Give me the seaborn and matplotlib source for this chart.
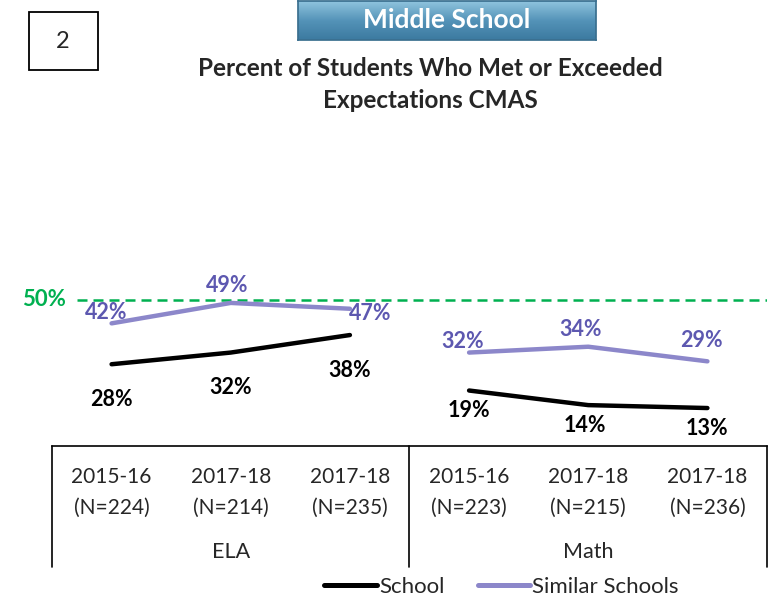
import numpy as np
import pandas as pd
import matplotlib
matplotlib.use("Agg")
import matplotlib.pyplot as plt
import matplotlib.transforms as mtransforms
from matplotlib.patches import Rectangle
from matplotlib.lines import Line2D
from matplotlib.colors import LinearSegmentedColormap
import seaborn as sns

# ---- data ----
subjects = ["ELA", "Math"]
years = ["2015-16", "2017-18", "2017-18", "2015-16", "2017-18", "2017-18"]
ns = ["(N=224)", "(N=214)", "(N=235)", "(N=223)", "(N=215)", "(N=236)"]
subject_of = ["ELA", "ELA", "ELA", "Math", "Math", "Math"]
school = [28, 32, 38, 19, 14, 13]
similar = [42, 49, 47, 32, 34, 29]
target = 50

# ---- label placement (pixels, styling only) ----
school_lbl_off = [(0, -35), (0, -35), (0, -35), (0, -20), (-3, -20), (0, -20)]
similar_lbl_off = [(-5, 11), (-4, 17), (20, -5), (-6, 11), (-8, 17), (-6, 21)]

sns.set_theme(style="white")
plt.rcParams["font.family"] = ["Lato", "DejaVu Sans"]

pos = list(range(len(years)))
df = pd.DataFrame({
    "pos": pos * 2,
    "value": school + similar,
    "series": ["School"] * 6 + ["Similar Schools"] * 6,
    "subject": subject_of * 2,
})

c_school = "#000000"
c_sim = "#8C87CA"
c_sim_lbl = "#5D58B0"
c_green = "#00B050"

fig = plt.figure(figsize=(7.8, 6.0), dpi=100)
ax = fig.add_axes([52/780, (600-446)/600, (767-52)/780, 292/600])

for subj in subjects:
    sub = df[df["subject"] == subj]
    sns.lineplot(data=sub, x="pos", y="value", hue="series",
                 palette={"School": c_school, "Similar Schools": c_sim},
                 linewidth=3.2, legend=False, ax=ax,
                 solid_capstyle="round")

ax.set_xlim(-0.5, 5.5)
ax.set_ylim(0, 100)
ax.set_xticks([])
ax.set_yticks([])
ax.set_xlabel("")
ax.set_ylabel("")
for s in ["top", "right", "left"]:
    ax.spines[s].set_visible(False)
ax.spines["bottom"].set_color("black")
ax.spines["bottom"].set_linewidth(1.2)

# 50% target line
ax.plot([-0.29, 5.5], [target, target], color=c_green, lw=1.8,
        dashes=(4, 2.4), zorder=1)
ax.text(-0.567, target, f"{target}%", color=c_green, fontsize=16,
        fontweight="bold", ha="center", va="center")

# data labels
for i in pos:
    ax.annotate(f"{school[i]}%", (i, school[i]), xytext=school_lbl_off[i],
                textcoords="offset pixels", ha="center", va="center",
                fontsize=15.5, fontweight="bold", color="black")
    ax.annotate(f"{similar[i]}%", (i, similar[i]), xytext=similar_lbl_off[i],
                textcoords="offset pixels", ha="center", va="center",
                fontsize=15.5, fontweight="bold", color=c_sim_lbl)

# category table below axis
trans = mtransforms.blended_transform_factory(ax.transData, ax.transAxes)
for xv in [-0.5, 2.5, 5.5]:
    ax.plot([xv, xv], [0, -0.415], color="black", lw=1.2,
            transform=trans, clip_on=False)
for i in pos:
    ax.text(i, -0.106, years[i], transform=trans, ha="center", va="center",
            fontsize=15)
    ax.text(i, -0.212, ns[i], transform=trans, ha="center", va="center",
            fontsize=15)
for k, subj in enumerate(subjects):
    ax.text(1 + 3*k, -0.363, subj, transform=trans, ha="center",
            va="center", fontsize=15.5)

# legend
handles = [Line2D([0], [0], color=c_school, lw=3.6),
           Line2D([0], [0], color=c_sim, lw=3.6)]
fig.legend(handles, ["School", "Similar Schools"], loc="center",
           bbox_to_anchor=(0.643, 0.022), ncol=2, frameon=False,
           fontsize=16, handlelength=2.35, handletextpad=0.1,
           columnspacing=1.5, borderpad=0.0)

# header box with gradient
hax = fig.add_axes([298/780, (600-40)/600, 298/780, 39/600])
grad = np.linspace(0, 1, 64).reshape(-1, 1)
cmap = LinearSegmentedColormap.from_list("hdr", ["#8FC4DE", "#5493B8", "#3C7AA0"])
hax.imshow(grad, aspect="auto", cmap=cmap, extent=[0, 1, 0, 1])
hax.set_xticks([]); hax.set_yticks([])
for s in hax.spines.values():
    s.set_color("#3A6F8F")
hax.text(0.5, 0.5, "Middle School", color="white", fontsize=19,
         fontweight="bold", ha="center", va="center", transform=hax.transAxes)

# title
fig.text(430/780, 1 - 68/600, "Percent of Students Who Met or Exceeded",
         ha="center", va="center", fontsize=17.5, fontweight="bold")
fig.text(430/780, 1 - 101/600, "Expectations CMAS",
         ha="center", va="center", fontsize=17.5, fontweight="bold")

# numbered box
fig.patches.append(Rectangle((29/780, 1 - 70/600), 69/780, 58/600,
                             transform=fig.transFigure, fill=False,
                             edgecolor="black", lw=1.3))
fig.text(63/780, 1 - 42/600, "2", ha="center", va="center", fontsize=17)

fig.savefig("out.png", dpi=100)
